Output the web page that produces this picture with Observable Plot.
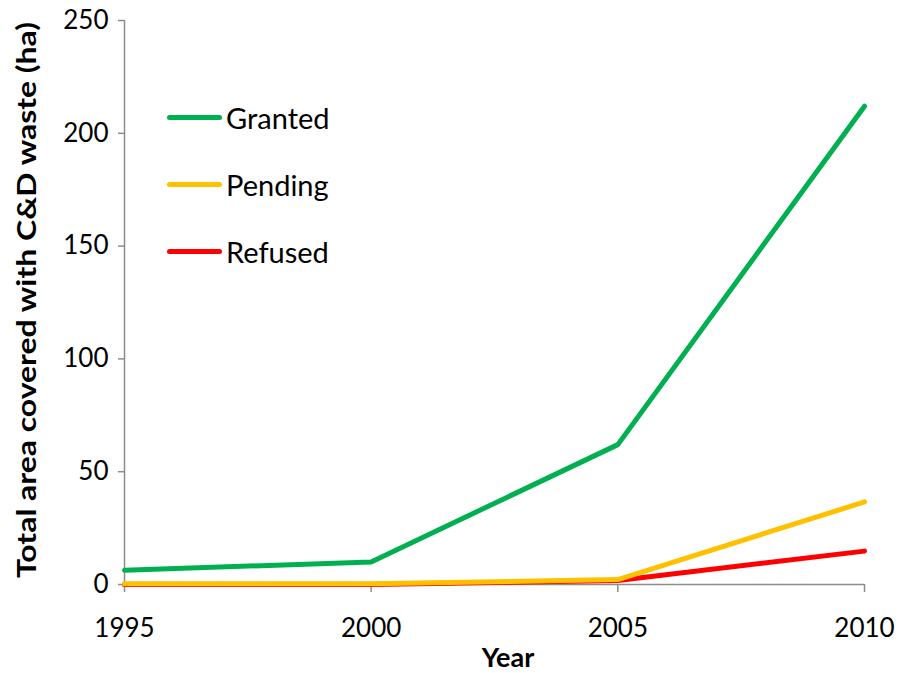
<!DOCTYPE html>
<html>
<head>
<meta charset="utf-8">
<script src="https://cdn.jsdelivr.net/npm/d3@7"></script>
<script src="https://cdn.jsdelivr.net/npm/@observablehq/plot@0.6"></script>
<style>
  html, body { margin: 0; padding: 0; background: #fff; }
  #wrap { position: relative; width: 899px; height: 673px; font-family: Lato, "Open Sans", sans-serif; }
  #legend { position: absolute; left: 167px; top: 84px; }
  .item { display: flex; align-items: center; height: 67px; font-size: 29px; color: #000; }
  .sw { width: 55px; height: 5px; border-radius: 3px; margin-right: 4px; }
</style>
</head>
<body>
<div id="wrap"></div>
<script>
const years = [1995, 2000, 2005, 2010];
const granted = [6.3, 10.0, 62, 212];
const pending = [0.3, 0.3, 2.2, 36.6];
const refused = [0, 0, 1.8, 14.8];
const seriesNames = ["Granted", "Pending", "Refused"];
const seriesColors = ["#00B050", "#FFC000", "#FF0000"];
const yTicks = [0, 50, 100, 150, 200, 250];
const xTicks = [1995, 2000, 2005, 2010];

const rows = (name, vals) => years.map((y, i) => ({year: y, value: vals[i], series: name}));
const gData = rows("Granted", granted);
const pData = rows("Pending", pending);
const rData = rows("Refused", refused);
const colorOf = Object.fromEntries(seriesNames.map((n, i) => [n, seriesColors[i]]));

const chart = Plot.plot({
  width: 899,
  height: 673,
  marginLeft: 124,
  marginRight: 35,
  marginTop: 20,
  marginBottom: 89,
  style: {fontFamily: "Lato, 'Open Sans', sans-serif", background: "#fff"},
  x: {domain: [1995, 2010], ticks: xTicks, tickFormat: d => String(d)},
  y: {domain: [0, 250], ticks: yTicks},
  marks: [
    Plot.ruleY([0], {stroke: "#8c8c8c", strokeWidth: 1.5}),
    Plot.ruleX([1995], {stroke: "#8c8c8c", strokeWidth: 1.5}),
    Plot.axisX({ticks: xTicks, tickSize: 8, tickPadding: 26, stroke: "#8c8c8c", strokeWidth: 1.5, fontSize: 26, fill: "#000", label: null, tickFormat: d => String(d)}),
    Plot.axisY({ticks: yTicks, tickSize: 6, tickPadding: 10, stroke: "#8c8c8c", strokeWidth: 1.5, fontSize: 26, fill: "#000", label: null}),
    Plot.line(gData, {x: "year", y: "value", stroke: colorOf.Granted, strokeWidth: 5, strokeLinecap: "round", strokeLinejoin: "miter"}),
    Plot.line(rData, {x: "year", y: "value", stroke: colorOf.Refused, strokeWidth: 5, strokeLinecap: "round", strokeLinejoin: "miter"}),
    Plot.line(pData, {x: "year", y: "value", stroke: colorOf.Pending, strokeWidth: 5, strokeLinecap: "round", strokeLinejoin: "miter"})
  ]
});

const svg = d3.select(chart);
svg.append("text")
  .attr("x", 508).attr("y", 667)
  .attr("text-anchor", "middle")
  .attr("font-weight", "bold")
  .attr("font-size", 27)
  .attr("font-family", "Lato, 'Open Sans', sans-serif")
  .attr("fill", "#000")
  .text("Year");

svg.append("text")
  .attr("transform", "translate(36,300) rotate(-90)")
  .attr("text-anchor", "middle")
  .attr("font-weight", "bold")
  .attr("font-size", 27)
  .attr("textLength", 556)
  .attr("lengthAdjust", "spacingAndGlyphs")
  .attr("font-family", "Lato, 'Open Sans', sans-serif")
  .attr("fill", "#000")
  .text("Total area covered with C&D waste (ha)");

const wrap = document.getElementById("wrap");
wrap.appendChild(chart);

const legend = document.createElement("div");
legend.id = "legend";
seriesNames.forEach((n, i) => {
  const it = document.createElement("div");
  it.className = "item";
  const sw = document.createElement("span");
  sw.className = "sw";
  sw.style.background = seriesColors[i];
  const t = document.createElement("span");
  t.textContent = n;
  it.appendChild(sw);
  it.appendChild(t);
  legend.appendChild(it);
});
wrap.appendChild(legend);
</script>
</body>
</html>
